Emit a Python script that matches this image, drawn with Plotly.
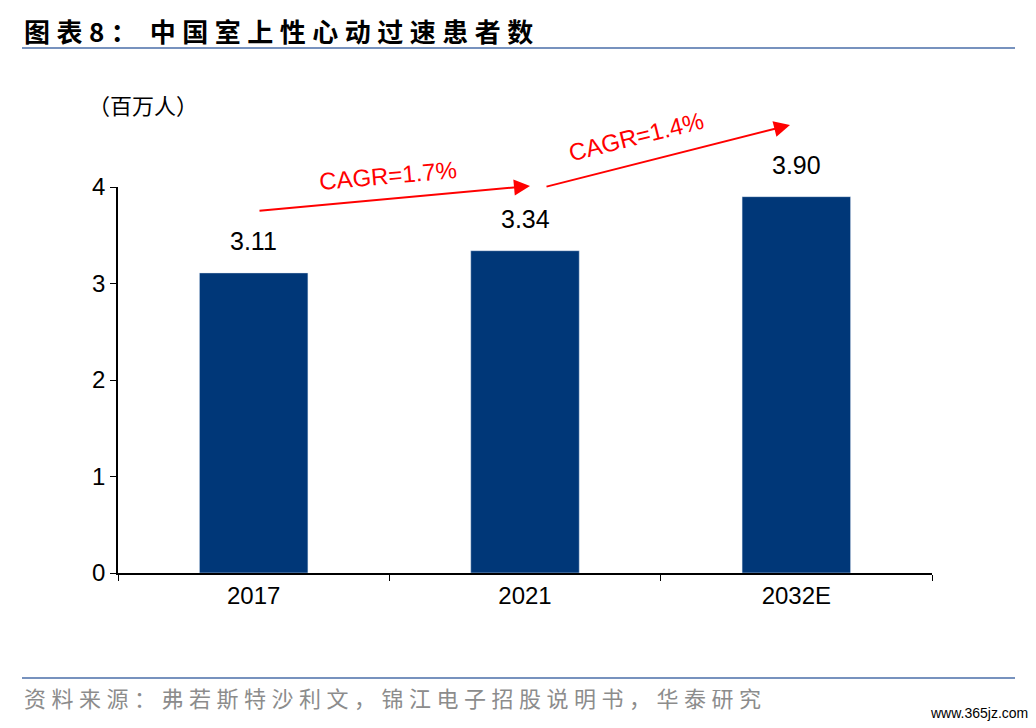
import plotly.graph_objects as go

years = ["2017", "2021", "2032E"]
patients = [3.11, 3.34, 3.90]
value_labels = ["3.11", "3.34", "3.90"]
cagr_labels = ["CAGR=1.7%", "CAGR=1.4%"]

W, H = 1036, 728
OFF = 8  # page body margin in the browser
L, R, T, B = 118 - OFF, 932 - OFF, 187 - OFF, 573 - OFF

def px_x(x):
    return (x - OFF - L) / (R - L)

def px_y(y):
    return (B - (y - OFF)) / (B - T)

def spaced(s):
    return "\u2005".join(s)

fig = go.Figure(go.Bar(
    x=years, y=patients, width=0.4, marker_color="#003778",
    cliponaxis=False,
))

cjk = "Noto Sans CJK SC"
ann = [
    dict(x=px_x(22), y=px_y(30), text="<b>" + spaced("图表8：") + "\u2002" + spaced("中国室上性心动过速患者数") + "</b>",
         font=dict(size=26, family=cjk, color="black"), xanchor="left"),
    dict(x=px_x(86), y=px_y(104), text="（百万人）",
         font=dict(size=22, family=cjk, color="black"), xanchor="left"),
    dict(x=px_x(22), y=px_y(697), text=spaced("资料来源：弗若斯特沙利文，锦江电子招股说明书，华泰研究"),
         font=dict(size=22, family=cjk, color="#8c8c8c"), xanchor="left"),
    dict(x=px_x(1030), y=px_y(713), text="www.365jz.com",
         font=dict(size=14, family="Liberation Sans", color="black"), xanchor="right"),
    dict(x=px_x(388), y=px_y(176), text=cagr_labels[0], textangle=-5, xanchor="center",
         font=dict(size=24, family="Liberation Sans", color="red")),
    dict(x=px_x(636), y=px_y(136), text=cagr_labels[1], textangle=-14, xanchor="center",
         font=dict(size=24, family="Liberation Sans", color="red")),
]
for a in ann:
    a.update(xref="paper", yref="paper", showarrow=False, yanchor="middle")

for i, (v, lab) in enumerate(zip(patients, value_labels)):
    ann.append(dict(x=i, y=v, xref="x", yref="y", text=lab, showarrow=False,
                    yanchor="bottom", yshift=16,
                    font=dict(size=25, family="Liberation Sans", color="black")))

arrows = [(258, 211, 530, 186), (545, 187, 790, 125)]
for x0, y0, x1, y1 in arrows:
    ann.append(dict(xref="paper", yref="paper", axref="pixel", ayref="pixel",
                    x=px_x(x1), y=px_y(y1), ax=x0 - x1, ay=y0 - y1,
                    showarrow=True, arrowhead=2, arrowsize=1.6, arrowwidth=2,
                    arrowcolor="red", text=""))

shapes = [
    dict(type="line", xref="paper", yref="paper", x0=px_x(22), x1=px_x(1015),
         y0=px_y(48), y1=px_y(48), line=dict(color="#4a6ea9", width=1.5)),
    dict(type="line", xref="paper", yref="paper", x0=px_x(22), x1=px_x(1015),
         y0=px_y(678), y1=px_y(678), line=dict(color="#4a6ea9", width=1.5)),
]

fig.update_layout(
    width=W, height=H, plot_bgcolor="white", paper_bgcolor="white",
    margin=dict(l=L, r=W - R, t=T, b=H - B),
    annotations=ann, shapes=shapes, showlegend=False,
    font=dict(family="Liberation Sans", size=24, color="black"),
)
fig.update_xaxes(type="category", categoryorder="array", categoryarray=years,
                 showline=True, linecolor="black", linewidth=1.5,
                 ticks="outside", tickson="boundaries", ticklen=6, tickcolor="black",
                 tickfont=dict(size=24))
fig.update_yaxes(range=[0, 4], dtick=1, showgrid=False, zeroline=False, showline=True,
                 linecolor="black", linewidth=1.5, ticks="outside", ticklen=6,
                 tickcolor="black", tickfont=dict(size=24))

fig.write_html("out.html")
